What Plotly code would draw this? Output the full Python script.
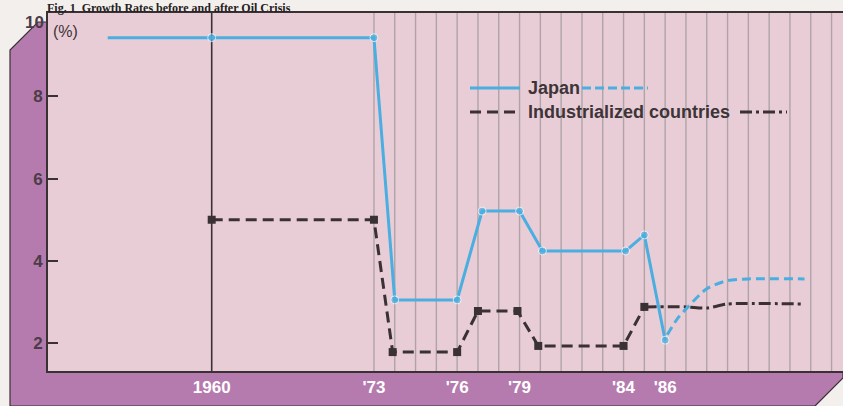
import plotly.graph_objects as go

# ---------------- data (x in chart grid units: '73 = 0, one grid step per unit) ----------------
tick_labels = ["1960", "'73", "'76", "'79", "'84", "'86"]
tick_pos = [-7.8, 0, 4, 7, 12, 14]

japan_x = [-12.8, -7.8, 0, 1, 4, 5.2, 7, 8.1, 12.1, 13, 14]
japan_y = [9.43, 9.43, 9.43, 3.05, 3.05, 5.21, 5.21, 4.24, 4.24, 4.63, 2.07]

japan_proj_x = [14.1, 14.6, 15.1, 16.0, 17.0, 18.0, 20.7]
japan_proj_y = [2.2, 2.6, 2.88, 3.32, 3.52, 3.56, 3.56]

ind_x = [-7.8, 0, 0.9, 4, 5, 6.9, 7.9, 12, 13]
ind_y = [5.0, 5.0, 1.78, 1.78, 2.78, 2.78, 1.93, 1.93, 2.88]

ind_proj_x = [13, 15, 16, 17, 20.7]
ind_proj_y = [2.88, 2.88, 2.85, 2.95, 2.95]

y_ticks = [2, 4, 6, 8]
grid_steps = list(range(0, 23))

# ---------------- style ----------------
BLUE = "#4aaee0"
DARK = "#3a3134"
PURPLE = "#b57bae"
PINK = "#e9cdd6"
PAPER = "#f3efed"
LABEL = "#4b3c47"

fig = go.Figure()

fig.add_trace(go.Scatter(
    x=ind_x, y=ind_y, mode="lines+markers",
    line=dict(color=DARK, width=3, dash="11px,6px"),
    marker=dict(symbol="square", size=8, color=DARK),
    hoverinfo="skip", showlegend=False))
fig.add_trace(go.Scatter(
    x=ind_proj_x, y=ind_proj_y, mode="lines",
    line=dict(color=DARK, width=3, dash="12px,4px,3px,4px", shape="spline", smoothing=0.6),
    hoverinfo="skip", showlegend=False))
fig.add_trace(go.Scatter(
    x=japan_x, y=japan_y, mode="lines+markers",
    line=dict(color=BLUE, width=3),
    marker=dict(symbol="circle", size=[0] + [8] * (len(japan_x) - 1), color=BLUE),
    hoverinfo="skip", showlegend=False))
fig.add_trace(go.Scatter(
    x=japan_proj_x, y=japan_proj_y, mode="lines",
    line=dict(color=BLUE, width=3, dash="9px,5px", shape="spline", smoothing=0.8),
    hoverinfo="skip", showlegend=False))

# ---------------- frame (purple panel + pink plot area) ----------------
def px(x):
    return (x - 48) / 795.0

def py(y):
    return (371 - y) / 358.0

pts = [(10, 406), (10, 50), (38, 22), (48, 22), (48, 371), (843, 371), (843, 378), (815, 406)]
path = "M " + " L ".join(f"{px(a):.5f},{py(b):.5f}" for a, b in pts) + " Z"
shapes = [
    dict(type="path", path=path, xref="paper", yref="paper", fillcolor=PURPLE,
         line=dict(color=DARK, width=1.2), layer="below"),
    dict(type="rect", x0=0, x1=1, y0=0, y1=1, xref="paper", yref="paper",
         fillcolor=PINK, line=dict(width=0), layer="below"),
]
for k in grid_steps:
    shapes.append(dict(type="line", x0=k, x1=k, y0=0, y1=1, xref="x", yref="paper",
                       line=dict(color="#aea4a8", width=1.4), layer="below"))
shapes.append(dict(type="line", x0=tick_pos[0], x1=tick_pos[0], y0=0, y1=1, xref="x", yref="paper",
                   line=dict(color=DARK, width=1.6), layer="below"))

# legend samples
shapes += [
    dict(type="line", x0=px(470), x1=px(520), y0=py(88), y1=py(88), xref="paper", yref="paper",
         line=dict(color=BLUE, width=3)),
    dict(type="line", x0=px(582), x1=px(648), y0=py(88), y1=py(88), xref="paper", yref="paper",
         line=dict(color=BLUE, width=3, dash="9px,4px")),
    dict(type="line", x0=px(470), x1=px(519), y0=py(112), y1=py(112), xref="paper", yref="paper",
         line=dict(color=DARK, width=3, dash="11px,6px")),
    dict(type="line", x0=px(740), x1=px(787), y0=py(112), y1=py(112), xref="paper", yref="paper",
         line=dict(color=DARK, width=3, dash="12px,4px,3px,4px")),
]

annotations = [
    dict(text="<b>Japan</b>", x=px(526), y=py(88), xref="paper", yref="paper",
         xanchor="left", yanchor="middle", showarrow=False,
         font=dict(family="Liberation Sans, Arial", size=18, color="#3d3438")),
    dict(text="<b>Industrialized countries</b>", x=px(526), y=py(112), xref="paper", yref="paper",
         xanchor="left", yanchor="middle", showarrow=False,
         font=dict(family="Liberation Sans, Arial", size=18, color="#3d3438")),
    dict(text="(%)", x=px(51), y=py(31), xref="paper", yref="paper",
         xanchor="left", yanchor="middle", showarrow=False,
         font=dict(family="Liberation Sans, Arial", size=16, color="#3d3438")),
    dict(text="<b>10</b>", x=px(46), y=py(22), xref="paper", yref="paper",
         xanchor="right", yanchor="middle", showarrow=False,
         font=dict(family="Liberation Sans, Arial", size=17, color=LABEL)),
    dict(text="<b>Fig. 1  Growth Rates before and after Oil Crisis</b>", x=px(46), y=py(0),
         xref="paper", yref="paper", xanchor="left", yanchor="top", showarrow=False,
         borderpad=0,
         font=dict(family="Liberation Serif, Times New Roman", size=12, color="#262222")),
]

fig.update_layout(
    width=843, height=406,
    margin=dict(l=48, r=0, t=13, b=35),
    paper_bgcolor=PAPER, plot_bgcolor="rgba(0,0,0,0)",
    showlegend=False, hovermode=False,
    shapes=shapes, annotations=annotations,
    xaxis=dict(range=[-15.67, 22.55], showgrid=False, zeroline=False,
               tickvals=tick_pos, ticktext=[f"<b>{t}</b>" for t in tick_labels],
               ticks="", showline=True, linecolor=DARK, linewidth=2, mirror=True,
               tickfont=dict(family="Liberation Sans Narrow, Liberation Sans, Arial", size=17, color="white")),
    yaxis=dict(range=[1.32, 10.03], showgrid=False, zeroline=False,
               tickvals=y_ticks, ticktext=[f"<b>{t}</b>" for t in y_ticks],
               ticks="inside", ticklen=10, tickwidth=1.6, tickcolor=DARK,
               showline=True, linecolor=DARK, linewidth=1.6,
               tickfont=dict(family="Liberation Sans, Arial", size=17, color=LABEL)),
)

fig.write_html(
    "out.html",
    config={"displayModeBar": False},
    post_script="document.body.style.margin='0';document.body.style.overflow='hidden';",
)
